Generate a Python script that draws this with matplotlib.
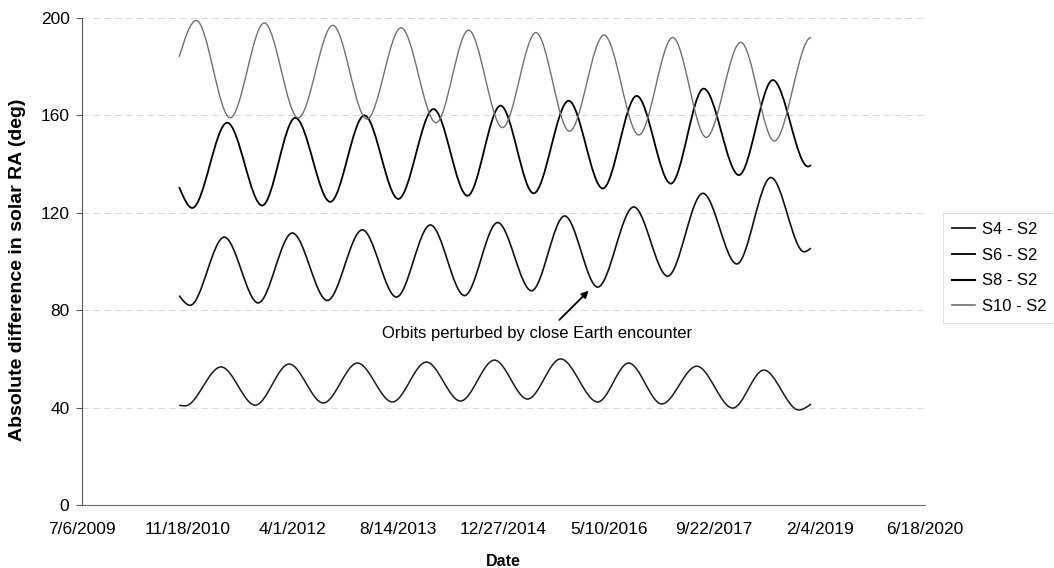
import numpy as np
import pandas as pd
import matplotlib
matplotlib.use("Agg")
import matplotlib.pyplot as plt
import matplotlib.dates as mdates
from matplotlib.path import Path
from matplotlib.patches import PathPatch
from matplotlib.lines import Line2D
from matplotlib.ticker import FuncFormatter

plt.rcParams['font.family'] = ['Liberation Sans', 'DejaVu Sans']

# turning points, x as Excel date serials (40000 = 7/6/2009)
s4_dates = [40461, 40489, 40660, 40822, 40983, 41145, 41307, 41473, 41634, 41796, 41957,
            42114, 42271, 42447, 42594, 42751, 42917, 43088, 43235, 43402, 43459]
s4_vals = [41, 40.7, 56.7, 41, 57.9, 41.9, 58.3, 42.3, 58.7, 42.7, 59.5,
           43.5, 60, 42.3, 58.3, 41.5, 57, 39.8, 55.4, 39, 41.5]

s6_dates = [40461, 40513, 40675, 40836, 40998, 41164, 41330, 41492, 41653, 41815, 41972,
            42133, 42290, 42447, 42618, 42779, 42946, 43107, 43269, 43426, 43459]
s6_vals = [86, 82, 110, 83, 111.7, 84, 113, 85.4, 115, 86, 116,
           88, 118.7, 89.5, 122.4, 94, 128, 99, 134.5, 104, 105.5]

s8_dates = [40461, 40523, 40689, 40855, 41012, 41178, 41340, 41501, 41668, 41829, 41986,
            42143, 42309, 42471, 42632, 42794, 42950, 43117, 43278, 43445, 43459]
s8_vals = [130.6, 122, 157, 123, 159, 124.5, 160, 125.7, 162.6, 127, 164,
           128, 166, 130, 168, 132, 171, 135.5, 174.5, 139, 139.6]

s10_dates = [40461, 40542, 40703, 40865, 41026, 41190, 41352, 41514, 41680, 41834,
             41995, 42154, 42313, 42477, 42642, 42803, 42962, 43126, 43285, 43459]
s10_vals = [184, 199, 159, 198, 159, 197, 158.5, 196, 157, 195,
            155, 194, 153.5, 193, 152, 192, 151, 190, 149.5, 192]

labels = ['S4 - S2', 'S6 - S2', 'S8 - S2', 'S10 - S2']
tick_serials = [40000, 40500, 41000, 41500, 42000, 42500, 43000, 43500, 44000]
y_ticks = [0, 40, 80, 120, 160, 200]


def to_num(serials):
    return mdates.date2num(pd.to_datetime(serials, unit='D', origin='1899-12-30'))


def smooth_path(x, y, flat_end=False):
    # cubic pieces, flat at every turning point (like Excel's smoothed line)
    x = np.asarray(x, float)
    y = np.asarray(y, float)
    m = np.zeros(len(x))
    m[0] = 1.5 * (y[1] - y[0]) / (x[1] - x[0])
    if not flat_end:
        m[-1] = 1.5 * (y[-1] - y[-2]) / (x[-1] - x[-2])
    verts = [(x[0], y[0])]
    codes = [Path.MOVETO]
    for i in range(len(x) - 1):
        dx = x[i + 1] - x[i]
        verts += [(x[i] + dx / 3, y[i] + m[i] * dx / 3),
                  (x[i + 1] - dx / 3, y[i + 1] - m[i + 1] * dx / 3),
                  (x[i + 1], y[i + 1])]
        codes += [Path.CURVE4] * 3
    return Path(verts, codes)


fig = plt.figure(figsize=(10.54, 5.68), dpi=100)
ax = fig.add_axes([82 / 1054, 1 - 505 / 568, (925 - 82) / 1054, (505 - 18) / 568])

series = [(s4_dates, s4_vals, '#1a1a1a', 1.1, False),
          (s6_dates, s6_vals, '#111111', 1.2, False),
          (s8_dates, s8_vals, '#000000', 1.3, False),
          (s10_dates, s10_vals, '#707070', 1.0, True)]

handles = []
for (d, v, col, lw, flat), lab in zip(series, labels):
    p = smooth_path(to_num(d), v, flat_end=flat)
    ax.add_patch(PathPatch(p, facecolor='none', edgecolor=col, lw=lw))
    handles.append(Line2D([], [], color=col, lw=lw + 0.2, label=lab))

ax.xaxis_date()
ax.set_xlim(to_num([tick_serials[0]])[0], to_num([tick_serials[-1]])[0])
ax.set_ylim(0, 200)
ax.set_xticks(to_num(tick_serials))
ax.set_yticks(y_ticks)


def fmt_date(v, pos):
    d = mdates.num2date(v)
    return f"{d.month}/{d.day}/{d.year}"


ax.xaxis.set_major_formatter(FuncFormatter(fmt_date))
ax.tick_params(axis='x', labelsize=12.5, length=0, pad=12)
ax.tick_params(axis='y', labelsize=12.5, length=4, width=0.8, pad=5, color='#555555')

for side in ['top', 'right']:
    ax.spines[side].set_visible(False)
ax.spines['left'].set_color('#555555')
ax.spines['bottom'].set_color('#666666')
ax.spines['left'].set_linewidth(0.8)
ax.spines['bottom'].set_linewidth(0.8)

ax.yaxis.grid(True, color='#d2d2d2', lw=0.6, ls=(0, (8, 5)))
ax.set_axisbelow(True)

fig.text(18 / 1054, 1 - 270 / 568, 'Absolute difference in solar RA (deg)',
         rotation=90, ha='center', va='center', fontsize=14, fontweight='bold')
fig.text(503 / 1054, 1 - 561 / 568, 'Date', ha='center', va='center',
         fontsize=11.5, fontweight='bold')

ax.annotate('Orbits perturbed by close Earth encounter',
            xy=(to_num([42404])[0], 88), xytext=(to_num([42157])[0], 70.6),
            ha='center', va='center', fontsize=12,
            arrowprops=dict(arrowstyle='-|>', color='black', lw=1.3,
                            mutation_scale=10, relpos=(0.555, 1.0), shrinkA=3, shrinkB=0))

leg = fig.legend(handles=handles, loc='center left',
                 bbox_to_anchor=(935 / 1054, 1 - 268 / 568), fontsize=12,
                 frameon=True, fancybox=False, edgecolor='#d0d0d0',
                 handlelength=1.4, handletextpad=0.4, labelspacing=0.65,
                 borderpad=0.5)
leg.get_frame().set_linewidth(0.6)

fig.savefig('out.png', dpi=100)
